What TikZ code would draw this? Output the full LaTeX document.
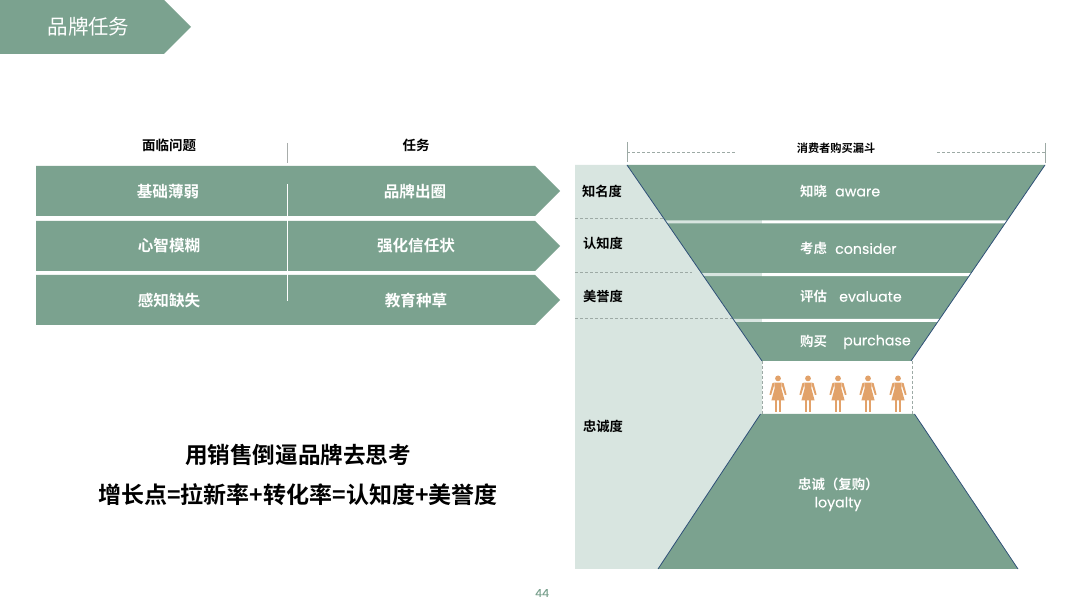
\documentclass[tikz,border=0pt]{standalone}
\usepackage{fontspec}
\setmainfont{Poppins}
\newfontfamily\cjkb{Noto Sans CJK SC Bold}
\newfontfamily\cjkr{Noto Sans CJK SC}
\newfontfamily\latin{Poppins}[FakeBold=0.25]
\definecolor{brandgreen}{HTML}{7BA28F}
\definecolor{palegreen}{HTML}{D8E5E0}
\definecolor{figure}{HTML}{E2A26A}
\definecolor{edgeblue}{HTML}{2F5078}
\definecolor{hair}{HTML}{A8ADAB}
\definecolor{dashgray}{HTML}{9DAAA5}
\tikzset{
  x=1pt,y=-1pt,
  banner/.style={fill=brandgreen,draw=none},
  rowtext/.style={text=white,font=\cjkb\fontsize{15.6}{15.6}\selectfont,inner sep=0pt,anchor=center},
  headtext/.style={text=black,font=\cjkb\fontsize{13.5}{13.5}\selectfont,inner sep=0pt,anchor=center},
  leveltext/.style={text=black,font=\cjkb\fontsize{13.3}{13.3}\selectfont,inner sep=0pt,anchor=center},
  bigone/.style={text=black,font=\cjkb\fontsize{22.6}{22.6}\selectfont,inner sep=0pt,anchor=center},
  bigtwo/.style={text=black,font=\cjkb\fontsize{23}{23}\selectfont,inner sep=0pt,anchor=center},
  funnelcn/.style={text=white,font=\cjkb\fontsize{13.4}{13.4}\selectfont,inner sep=0pt,anchor=west},
  funnelen/.style={text=white,font=\latin\fontsize{14.2}{14.2}\selectfont,inner sep=0pt,anchor=west},
  edge/.style={draw=edgeblue,line width=0.8pt},
  levelrule/.style={draw=dashgray,line width=0.6pt,dash pattern=on 3pt off 2pt},
  thin rule/.style={line width=0.7pt},
  person/.pic={
    \fill[figure] (0,-34.6) circle (2.9);
    % dress
    \fill[figure] (-3.7,-30.4) -- (3.7,-30.4) -- (3.4,-24.5) -- (6.6,-12.6) -- (-6.6,-12.6) -- (-3.4,-24.5) -- cycle;
    % arms
    \fill[figure] (-3.7,-30.4) -- (-5.6,-29.8) -- (-8.6,-18.4) -- (-6.9,-18) -- (-4.2,-26.5) -- cycle;
    \fill[figure] (3.7,-30.4) -- (5.6,-29.8) -- (8.6,-18.4) -- (6.9,-18) -- (4.2,-26.5) -- cycle;
    % legs
    \fill[figure] (-3.2,-13) rectangle (-0.7,-0.6);
    \fill[figure] (0.7,-13) rectangle (3.2,-0.6);
  }
}
\begin{document}
\begin{tikzpicture}
\useasboundingbox[fill=white] (0,0) rectangle (1080,609);
% title banner
\fill[banner] (0,0) -- (164,0) -- (191,27) -- (164,54) -- (0,54) -- cycle;
\node[text=white,font=\cjkr\fontsize{20.5}{20.5}\selectfont,inner sep=0pt] (title) at (88.5,27) {品牌任务};
% table heads
\node[headtext] (h1) at (169,145.5) {面临问题};
\node[headtext] (h2) at (416,145.5) {任务};
\draw[hair,thin rule] (287.5,143) -- (287.5,163);
% rows
\fill[banner] (36,166) -- (535,166) -- (560,191) -- (535,216) -- (36,216) -- cycle;
\fill[banner] (36,221) -- (535,221) -- (560,246) -- (535,271) -- (36,271) -- cycle;
\fill[banner] (36,275) -- (535,275) -- (560,300) -- (535,325) -- (36,325) -- cycle;
\draw[white,thin rule] (287.5,184) -- (287.5,301);
\node[rowtext] (r1a) at (168,192) {基础薄弱};
\node[rowtext] (r1b) at (415,192) {品牌出圈};
\node[rowtext] (r2a) at (169,246) {心智模糊};
\node[rowtext] (r2b) at (416,246) {强化信任状};
\node[rowtext] (r3a) at (169,301) {感知缺失};
\node[rowtext] (r3b) at (416,301) {教育种草};
% big text
\node[bigone] (big1) at (298,455) {用销售倒逼品牌去思考};
\node[bigtwo] (big2) at (298,495) {增长点=拉新率+转化率=认知度+美誉度};
% pale side panel
\fill[palegreen] (575,165) -- (627,165) -- (762,361) -- (762,414) -- (658,569) -- (575,569) -- cycle;
% funnel
\fill[brandgreen] (627,165) -- (1045,165) -- (911,361) -- (762,361) -- cycle;
\fill[brandgreen] (760.5,414) -- (914.5,414) -- (1018,569) -- (658,569) -- cycle;
% bands
\fill[palegreen] (665,220.5) -- (762,220.5) -- (762,223.5) -- (667,223.5) -- cycle;
\fill[white] (762,220.5) -- (1008,220.5) -- (1006,223.5) -- (762,223.5) -- cycle;
\fill[palegreen] (701,273.2) -- (762,273.2) -- (762,276.2) -- (703,276.2) -- cycle;
\fill[white] (762,273.2) -- (972,273.2) -- (970,276.2) -- (762,276.2) -- cycle;
\fill[palegreen] (733,319) -- (762,319) -- (762,322) -- (735,322) -- cycle;
\fill[white] (762,319) -- (941,319) -- (939,322) -- (762,322) -- cycle;
% funnel edges
\draw[edge] (627,165) -- (762,361);
\draw[edge] (1045,165) -- (911,361);
\draw[edge] (760.5,414) -- (658,569);
\draw[edge] (914.5,414) -- (1018,569);
% level rules
\draw[levelrule] (575,218.5) -- (663,218.5);
\draw[levelrule] (575,272) -- (692,272);
\draw[levelrule] (575,318.5) -- (732,318.5);
% gap rules
\draw[levelrule] (762,361) -- (762,414);
\draw[levelrule] (912,361) -- (912,414);
% bracket
\draw[dashgray,line width=0.8pt] (627,142) -- (627,162);
\draw[dashgray,line width=0.8pt] (1045,143) -- (1045,163);
\draw[levelrule] (627,152.5) -- (735,152.5);
\draw[levelrule] (937,152.5) -- (1045,152.5);
\node[text=black,font=\cjkb\fontsize{11.2}{11.2}\selectfont,inner sep=0pt] (ftitle) at (836,148) {消费者购买漏斗};
% level labels
\node[leveltext] (l1) at (602,191) {知名度};
\node[leveltext] (l2) at (603,243) {认知度};
\node[leveltext] (l3) at (603,296) {美誉度};
\node[leveltext] (l4) at (603,426) {忠诚度};
% funnel labels
\node[funnelcn] (f1c) at (800,191.5) {知晓};
\node[funnelen] (f1e) at (835,192.5) {aware};
\node[funnelcn] (f2c) at (800,248) {考虑};
\node[funnelen] (f2e) at (835,248.5) {consider};
\node[funnelcn] (f3c) at (800,296) {评估};
\node[funnelen] (f3e) at (839,296.5) {evaluate};
\node[funnelcn] (f4c) at (800,341) {购买};
\node[funnelen] (f4e) at (843,342) {purchase};
\node[funnelcn] (f5c) at (798,484) {忠诚（复购）};
\node[text=white,font=\latin\fontsize{14.2}{14.2}\selectfont,inner sep=0pt] (f5e) at (838,504) {loyalty};
% figures
\pic at (778,413) {person};
\pic at (808,413) {person};
\pic at (838,413) {person};
\pic at (868,413) {person};
\pic at (898,413) {person};
% page number
\node[text=brandgreen,font=\latin\fontsize{11}{11}\selectfont,inner sep=0pt] (page) at (542,593) {44};
\end{tikzpicture}
\end{document}
